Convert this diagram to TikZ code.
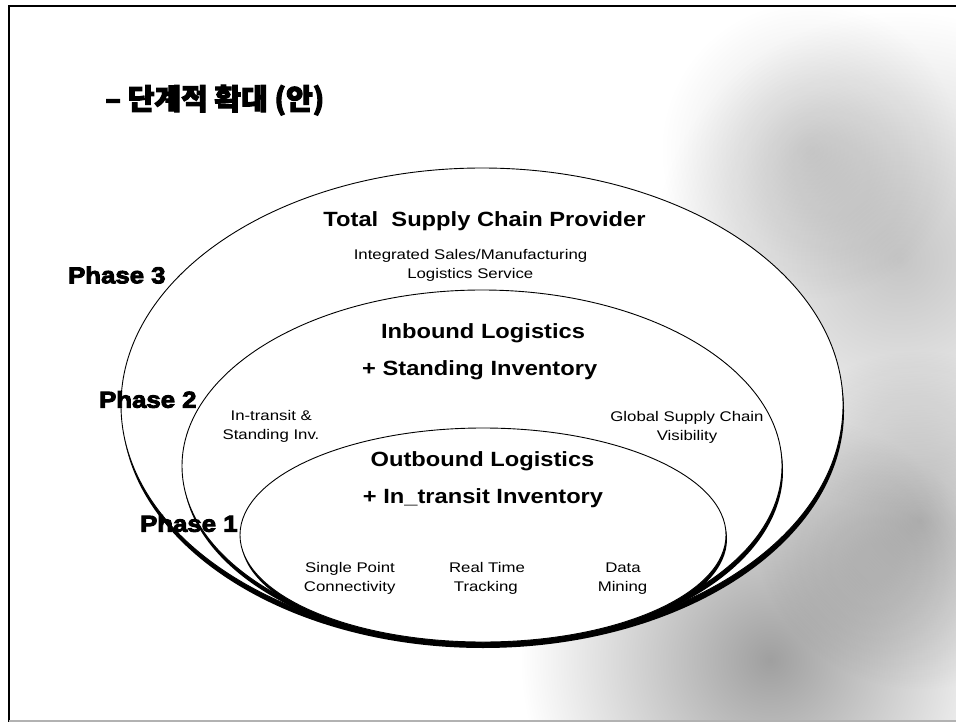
\documentclass[tikz,border=0pt]{standalone}
\usepackage{fontspec}
\setmainfont{Liberation Sans}
\newfontfamily\labf{Liberation Sans}[FakeStretch=1.2]
\newfontfamily\bldf{Liberation Sans}[FakeStretch=1.15]
\newfontfamily\hvyf{Liberation Sans}[FakeStretch=1.12,BoldFeatures={FakeBold=4}]
\newfontfamily\korf{Noto Sans CJK KR}[BoldFeatures={FakeBold=3.5}]
\begin{document}
\begin{tikzpicture}[x=1pt,y=-1pt,
  small/.style={font=\labf\fontsize{14}{17}\selectfont, inner sep=0pt, anchor=base},
  big/.style={font=\bldf\bfseries\fontsize{20.6}{24}\selectfont, inner sep=0pt, anchor=base},
  phase/.style={font=\hvyf\bfseries\fontsize{23}{27}\selectfont, inner sep=0pt, anchor=base west},
  rim/.style={fill=white, draw=black, line width=0.9pt},
  blob/.style={blend mode=multiply, outer color=white}]
\useasboundingbox (0,0) rectangle (956,722);
\fill[white] (0,0) rectangle (956,722);
% background texture
\begin{scope}
  \clip (9,6) rectangle (956,721);
  \shade[blob, inner color=gray!45] (900,260) circle (250pt);
  \shade[blob, inner color=gray!28] (810,150) circle (150pt);
  \shade[blob, inner color=gray!75] (770,660) circle (250pt);
  \shade[blob, inner color=gray!55] (920,520) circle (170pt);
\end{scope}
% frame
\draw[line width=2.5pt] (9,722) -- (9,6) -- (956,6);
\draw[gray!60, line width=1.5pt] (9,721) -- (956,721);
% nested ellipses with shadow
\fill[black] (483,411) ellipse (361pt and 237pt);
\path[rim] (482,405) ellipse (361pt and 237pt);
\fill[black] (483,471) ellipse (300pt and 176pt);
\path[rim] (482,466) ellipse (300pt and 176pt);
\fill[black] (484,539) ellipse (243pt and 107pt);
\path[rim] (483,535) ellipse (243pt and 107pt);
% title
\node[font=\korf\bfseries\fontsize{29}{33}\selectfont, inner sep=0pt, anchor=base west] (title) at (105,109.5) {– 단계적 확대 (안)};
% phase labels
\node[phase] (p3) at (68,283.3) {Phase 3};
\node[phase] (p2) at (99,407.7) {Phase 2};
\node[phase] (p1) at (140,531.7) {Phase 1};
% phase 3 texts
\node[big] (tscp) at (484.5,226.7) {Total\ \ Supply Chain Provider};
\node[small] (isml) at (470.5,260) {Integrated Sales/Manufacturing};
\node[small] (lsv) at (470.3,279) {Logistics Service};
% phase 2 texts
\node[big] (inb) at (483,338.3) {Inbound Logistics};
\node[big] (stinv) at (479.7,375.5) {+ Standing Inventory};
\node[small] (intr) at (271.2,420.7) {In-transit \&};
\node[small] (stinv2) at (271,439.3) {Standing Inv.};
\node[small] (gscv) at (687,421.5) {Global Supply Chain};
\node[small] (vis) at (687,440) {Visibility};
% phase 1 texts
\node[big] (outb) at (482.5,466.3) {Outbound Logistics};
\node[big] (intinv) at (483,503.3) {+ In\_transit Inventory};
\node[small] (spc1) at (350,572.2) {Single Point};
\node[small] (spc2) at (349.7,591) {Connectivity};
\node[small] (rtt1) at (487,572.2) {Real Time};
\node[small] (rtt2) at (485.8,591) {Tracking};
\node[small] (dm1) at (623,572.2) {Data};
\node[small] (dm2) at (622.5,591) {Mining};
\end{tikzpicture}
\end{document}
